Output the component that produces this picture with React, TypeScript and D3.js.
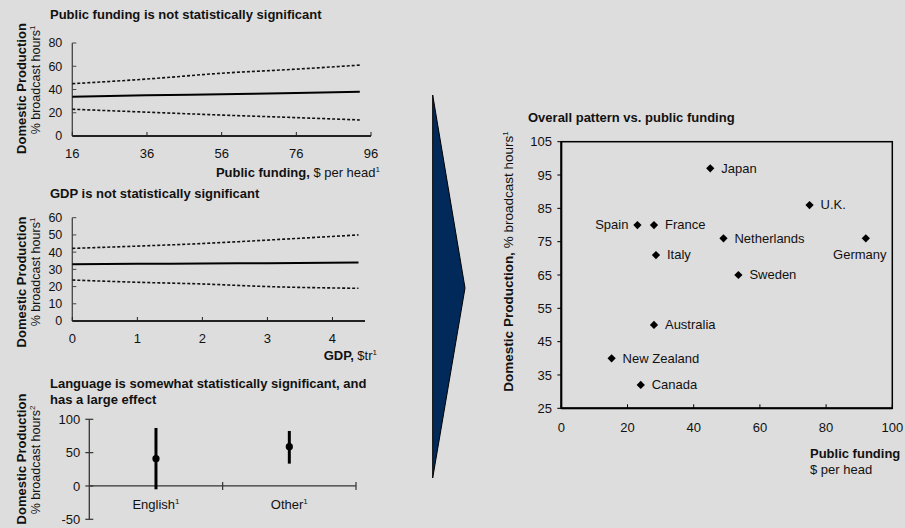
import React from 'react';
import * as d3 from 'd3';

const FONT = "'Liberation Sans', Arial, Helvetica, sans-serif";
const BG = '#dddddd';
const INK = '#111111';

// Chart 1: public funding regression
const fundingX = [16, 36, 56, 76, 93];
const fundingFit = [33.8, 35, 36, 37, 38];
const fundingUpper = [45, 49, 54, 57.5, 61];
const fundingLower = [23, 20.5, 18, 15.8, 13.8];
const fundingXTicks = [16, 36, 56, 76, 96];
const fundingYTicks = [0, 20, 40, 60, 80];

// Chart 2: GDP regression
const gdpX = [0, 1, 2, 3, 4.4];
const gdpFit = [33, 33.2, 33.4, 33.6, 34];
const gdpUpper = [42.2, 43.5, 45, 47, 50];
const gdpLower = [23.8, 22.5, 21.5, 20, 19];
const gdpXTicks = [0, 1, 2, 3, 4];
const gdpYTicks = [0, 10, 20, 30, 40, 50, 60];

// Chart 3: language effect
const languages = ['English', 'Other'];
const langMean = [41, 59];
const langLow = [-5, 33.5];
const langHigh = [87, 82.5];
const langYTicks = [-50, 0, 50, 100];

// Scatter
const countries = ['Japan', 'U.K.', 'Spain', 'France', 'Netherlands', 'Germany', 'Italy', 'Sweden', 'Australia', 'New Zealand', 'Canada'];
const countryFunding = [45, 75, 23, 28, 49, 92, 28.6, 53.5, 28, 15.2, 24];
const countryDomestic = [97, 86, 80, 80, 76, 76, 71, 65, 50, 40, 32];
const countryLabelSide = ['right', 'right', 'left', 'right', 'right', 'below', 'right', 'right', 'right', 'right', 'right'];
const scatterXTicks = [0, 20, 40, 60, 80, 100];
const scatterYTicks = [25, 35, 45, 55, 65, 75, 85, 95, 105];

function Sup({ children, size = 8, dy = -5 }: { children: any; size?: number; dy?: number }) {
  return (
    <tspan dy={dy} fontSize={size}>
      {children}
    </tspan>
  );
}

function YTitle({ x1, x2, c1, c2, sup }: { x1: number; x2: number; c1: number; c2: number; sup: string }) {
  return (
    <g fill={INK}>
      <text transform={`translate(${x1},${c1}) rotate(-90)`} textAnchor="middle" fontSize={13} fontWeight="bold">
        Domestic Production
      </text>
      <text transform={`translate(${x2},${c2}) rotate(-90)`} textAnchor="middle" fontSize={12.5}>
        % broadcast hours<Sup>{sup}</Sup>
      </text>
    </g>
  );
}

function RegressionChart({
  xs, fit, upper, lower, xDomain, xRange, yDomain, yRange, xTicks, yTicks, xAxisEnd, labelBaseline,
}: any) {
  const x = d3.scaleLinear().domain(xDomain).range(xRange);
  const y = d3.scaleLinear().domain(yDomain).range(yRange);
  const line = d3
    .line<number>()
    .x((_, i) => x(xs[i]))
    .y((d) => y(d))
    .curve(d3.curveMonotoneX);
  const x0 = xRange[0];
  const yBottom = yRange[0];
  return (
    <g>
      {/* y axis */}
      <line x1={x0} x2={x0} y1={y(yDomain[0])} y2={y(yDomain[1])} stroke="#444" strokeWidth={1.3} />
      {yTicks.map((t: number) => (
        <g key={t}>
          <line x1={x0} x2={x0 + 4} y1={y(t)} y2={y(t)} stroke="#444" strokeWidth={1} />
          <text x={x0 - 10} y={y(t)} dy="0.35em" textAnchor="end" fontSize={12.5} fill={INK}>
            {t}
          </text>
        </g>
      ))}
      {/* x axis */}
      <line x1={x0} x2={x(xAxisEnd)} y1={yBottom} y2={yBottom} stroke="#222" strokeWidth={1.8} />
      {xTicks.map((t: number) => (
        <g key={t}>
          <line x1={x(t)} x2={x(t)} y1={yBottom} y2={yBottom - 4} stroke="#222" strokeWidth={1} />
          <text x={x(t)} y={labelBaseline} textAnchor="middle" fontSize={13} fill={INK}>
            {t}
          </text>
        </g>
      ))}
      <path d={line(upper) || ''} fill="none" stroke="#111" strokeWidth={1.6} strokeDasharray="3,2" />
      <path d={line(lower) || ''} fill="none" stroke="#111" strokeWidth={1.6} strokeDasharray="3,2" />
      <path d={line(fit) || ''} fill="none" stroke="#000" strokeWidth={2} />
    </g>
  );
}

function LanguageChart() {
  const x = d3.scaleBand<string>().domain(languages).range([89.3, 356]);
  const y = d3.scaleLinear().domain([-50, 100]).range([519.3, 419.3]);
  const x0 = 89.3;
  return (
    <g>
      <line x1={x0} x2={x0} y1={y(-50)} y2={y(100)} stroke="#333" strokeWidth={1.3} />
      {langYTicks.map((t) => (
        <g key={t}>
          <line x1={x0 - 4} x2={x0 + 4} y1={y(t)} y2={y(t)} stroke="#333" strokeWidth={1.2} />
          <text x={x0 - 9} y={y(t)} dy="0.35em" textAnchor="end" fontSize={13} fill={INK}>
            {t}
          </text>
        </g>
      ))}
      <line x1={x0} x2={356} y1={y(0)} y2={y(0)} stroke="#333" strokeWidth={1.3} />
      {languages.map((l, i) => (
        <line key={'b' + l} x1={x(l)! + x.bandwidth()} x2={x(l)! + x.bandwidth()} y1={y(0) - 4} y2={y(0) + 4}
          stroke="#333" strokeWidth={1.2} />
      ))}
      {languages.map((l, i) => {
        const cx = x(l)! + x.bandwidth() / 2;
        return (
          <g key={l}>
            <line x1={cx} x2={cx} y1={y(langLow[i])} y2={y(langHigh[i])} stroke="#000" strokeWidth={3} />
            <circle cx={cx} cy={y(langMean[i])} r={3.6} fill="#000" />
            <text x={cx} y={509} textAnchor="middle" fontSize={13} fill={INK}>
              {l}
              <Sup>1</Sup>
            </text>
          </g>
        );
      })}
    </g>
  );
}

function Scatter() {
  const x = d3.scaleLinear().domain([0, 100]).range([561.3, 892.3]);
  const y = d3.scaleLinear().domain([25, 105]).range([408.3, 141.7]);
  const sym = d3.symbol().type(d3.symbolSquare).size(34)();
  return (
    <g>
      <rect x={x(0)} y={y(105)} width={x(100) - x(0)} height={y(25) - y(105)} fill="none" stroke="#000" strokeWidth={1.5} />
      <line x1={x(0)} x2={x(0)} y1={y(25)} y2={y(105)} stroke="#000" strokeWidth={2} />
      <line x1={x(0)} x2={x(100)} y1={y(25)} y2={y(25)} stroke="#000" strokeWidth={2} />
      {scatterYTicks.map((t) => (
        <g key={t}>
          <line x1={x(0) - 4} x2={x(0)} y1={y(t)} y2={y(t)} stroke="#000" strokeWidth={1} />
          <text x={552} y={y(t)} dy="0.35em" textAnchor="end" fontSize={13} fill={INK}>
            {t}
          </text>
        </g>
      ))}
      {scatterXTicks.map((t) => (
        <g key={t}>
          <line x1={x(t)} x2={x(t)} y1={y(25)} y2={y(25) - 4} stroke="#000" strokeWidth={1} />
          <text x={x(t)} y={432} textAnchor="middle" fontSize={13} fill={INK}>
            {t}
          </text>
        </g>
      ))}
      {countries.map((c, i) => {
        const px = x(countryFunding[i]);
        const py = y(countryDomestic[i]);
        const side = countryLabelSide[i];
        let lx = px + 11;
        let ly = py;
        let anchor = 'start';
        let dy = '0.33em';
        if (side === 'left') {
          lx = px - 9;
          anchor = 'end';
        } else if (side === 'below') {
          lx = px - 6;
          ly = py + 21;
          anchor = 'middle';
          dy = '0';
        }
        return (
          <g key={c}>
            <path d={sym || ''} transform={`translate(${px},${py}) rotate(45)`} fill="#000" />
            <text x={lx} y={ly} dy={dy} textAnchor={anchor} fontSize={13} fill={INK}>
              {c}
            </text>
          </g>
        );
      })}
      <text transform={`translate(513,261.5) rotate(-90)`} textAnchor="middle" fontSize={13.5} fill={INK}>
        <tspan fontWeight="bold">Domestic Production,</tspan>
        <tspan> % broadcast hours</tspan>
        <Sup>1</Sup>
      </text>
      <text x={810} y={458} fontSize={13} fontWeight="bold" fill={INK}>
        Public funding
      </text>
      <text x={810} y={474} fontSize={13} fill={INK}>
        $ per head
      </text>
    </g>
  );
}

export default function App() {
  return (
    <svg width={905} height={528} style={{ position: 'absolute', left: 0, top: 0, fontFamily: FONT }}>
      <rect x={0} y={0} width={905} height={528} fill={BG} />

      {/* Chart 1 */}
      <text x={50} y={19} fontSize={13} fontWeight="bold" fill={INK}>
        Public funding is not statistically significant
      </text>
      <YTitle x1={26} x2={40} c1={88.5} c2={80} sup="1" />
      <RegressionChart
        xs={fundingX}
        fit={fundingFit}
        upper={fundingUpper}
        lower={fundingLower}
        xDomain={[16, 96]}
        xRange={[72.3, 371]}
        yDomain={[0, 80]}
        yRange={[136, 43]}
        xTicks={fundingXTicks}
        yTicks={fundingYTicks}
        xAxisEnd={96}
        labelBaseline={158}
      />
      <text x={380} y={177} textAnchor="end" fontSize={13} fill={INK}>
        <tspan fontWeight="bold">Public funding,</tspan>
        <tspan> $ per head</tspan>
        <Sup>1</Sup>
      </text>

      {/* Chart 2 */}
      <text x={50} y={198} fontSize={13} fontWeight="bold" fill={INK}>
        GDP is not statistically significant
      </text>
      <YTitle x1={26} x2={40} c1={282} c2={272} sup="1" />
      <RegressionChart
        xs={gdpX}
        fit={gdpFit}
        upper={gdpUpper}
        lower={gdpLower}
        xDomain={[0, 4.5]}
        xRange={[72.3, 365]}
        yDomain={[0, 60]}
        yRange={[321, 217.7]}
        xTicks={gdpXTicks}
        yTicks={gdpYTicks}
        xAxisEnd={4.5}
        labelBaseline={343}
      />
      <text x={377} y={360} textAnchor="end" fontSize={13} fill={INK}>
        <tspan fontWeight="bold">GDP,</tspan>
        <tspan> $tr</tspan>
        <Sup>1</Sup>
      </text>

      {/* Chart 3 */}
      <text x={50} y={388} fontSize={13} fontWeight="bold" fill={INK}>
        Language is somewhat statistically significant, and
      </text>
      <text x={50} y={404} fontSize={13} fontWeight="bold" fill={INK}>
        has a large effect
      </text>
      <YTitle x1={26} x2={40} c1={459} c2={460} sup="2" />
      <LanguageChart />

      {/* Arrow */}
      <polygon points="432.7,95 465,288 432.7,478" fill="#012a5b" stroke="#000" strokeWidth={1} />

      {/* Scatter */}
      <text x={528} y={122} fontSize={13} fontWeight="bold" fill={INK}>
        Overall pattern vs. public funding
      </text>
      <Scatter />
    </svg>
  );
}
